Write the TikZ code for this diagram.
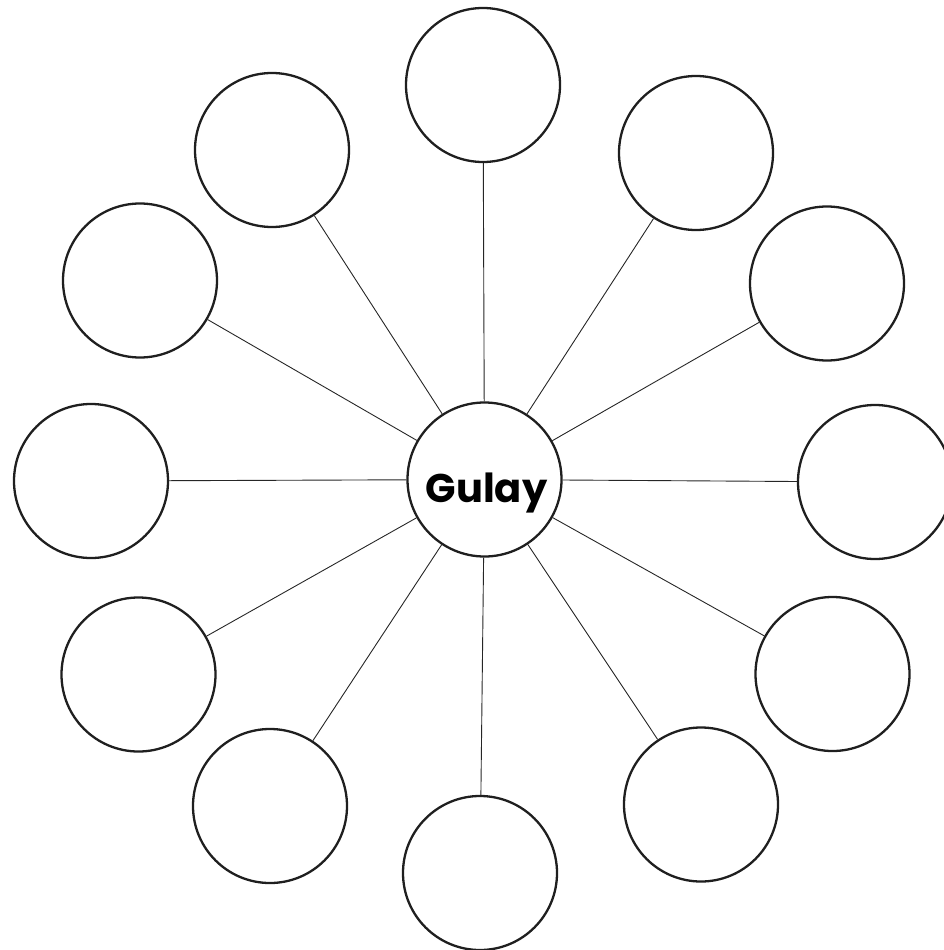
\documentclass[tikz,border=0pt]{standalone}
\usepackage{fontspec}
\newfontfamily\popfont{Poppins}
\begin{document}
\begin{tikzpicture}[x=1pt,y=-1pt,
  bubble/.style={circle,draw=black!88,line width=2.3pt,minimum size=154pt,inner sep=0pt,fill=white},
  spoke/.style={draw=black!85,line width=0.9pt}]
\useasboundingbox (0,0) rectangle (944,950);
\node[bubble] (c) at (484.5,479.5) {};
\node[anchor=base,font=\popfont\bfseries\fontsize{40}{48}\selectfont] (gl) at (486.5,502) {Gulay};
\node[bubble] (n1) at (483,85) {};
\node[bubble] (n2) at (696,153) {};
\node[bubble] (n3) at (827,283.5) {};
\node[bubble] (n4) at (875,482) {};
\node[bubble] (n5) at (832.5,674) {};
\node[bubble] (n6) at (701,804.5) {};
\node[bubble] (n7) at (480,873) {};
\node[bubble] (n8) at (270,806) {};
\node[bubble] (n9) at (138.5,674.5) {};
\node[bubble] (n10) at (91,481) {};
\node[bubble] (n11) at (140,280.5) {};
\node[bubble] (n12) at (272,150) {};
\foreach \i in {1,...,12}{\draw[spoke] (c) -- (n\i);}
\end{tikzpicture}
\end{document}
